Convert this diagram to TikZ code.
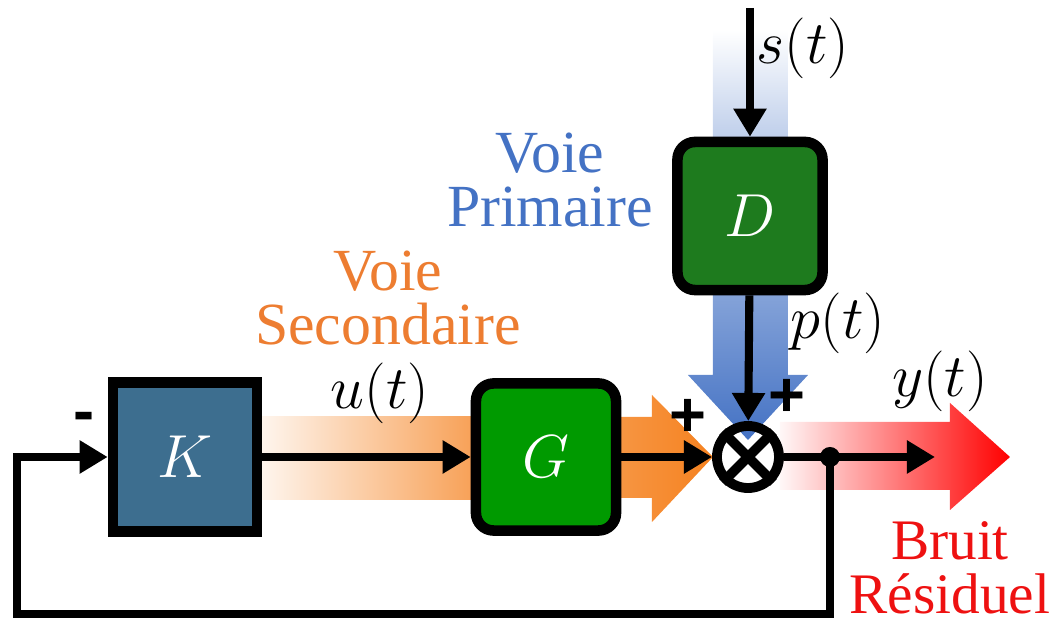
\documentclass[tikz,border=0pt]{standalone}
\usepackage{fontspec}
\setmainfont{Liberation Serif}
\setsansfont{Liberation Sans}
\usetikzlibrary{arrows.meta}

\definecolor{kblue}{HTML}{3D6E8F}
\definecolor{ggreen}{HTML}{009A00}
\definecolor{dgreen}{HTML}{1E7B1E}
\definecolor{blu}{HTML}{4472C4}
\definecolor{orng}{HTML}{F58220}
\definecolor{txtorange}{HTML}{ED7D31}
\definecolor{txtred}{HTML}{EE1111}

\tikzset{
  blk/.style={draw, line width=3pt, text=white, inner sep=0pt,
    font=\fontsize{17}{17}\selectfont},
  sig/.style={line width=2.3pt, -{Triangle[length=8pt,width=9pt]}},
  wire/.style={line width=2.3pt},
  sumnode/.style={circle, draw, line width=2.8pt, minimum size=0.62cm, inner sep=0pt},
  sgn/.style={font=\fontsize{18}{18}\sffamily\bfseries\selectfont},
  lbl/.style={font=\fontsize{16}{16}\selectfont},
  path label/.style={align=center, font=\fontsize{17}{15.5}\selectfont}
}

\begin{document}
\begin{tikzpicture}[x=0.01cm,y=-0.01cm]
    \useasboundingbox (0,0) rectangle (1059,625);
    % Paths (shaded)
    \shade[top color=white, bottom color=blu!35] (713,30) rectangle (788,140);
    \shade[left color=orng!8, right color=orng!75] (262,417) rectangle (472,500);
    \shade[left color=orng!85, right color=orng]
      (621,417) -- (652,417) -- (652,395) -- (713,457) -- (652,522) -- (652,498) -- (621,498) -- cycle;
    \shade[top color=blu!65, bottom color=blu]
      (713,292) -- (713,375) -- (688,375) -- (748,440) -- (808,375) -- (788,375) -- (788,292) -- cycle;
    \shade[left color=red!3, middle color=red!65, right color=red]
      (780,422) -- (950,422) -- (950,403) -- (1010,457) -- (950,510) -- (950,490) -- (780,490) -- cycle;
    % Blocks
    \node[blk, fill=kblue, minimum width=1.44cm, minimum height=1.49cm] (K) at (185,457) {$K$};
    \node[blk, fill=ggreen, rounded corners=5pt, minimum width=1.40cm, minimum height=1.47cm] (G) at (546,457) {$G$};
    \node[blk, fill=dgreen, rounded corners=5pt, minimum width=1.45cm, minimum height=1.48cm] (D) at (750,216) {$D$};
    \node[sumnode] (S) at (748,457) {};
    \draw[line width=2.8pt] (S.north west) -- (S.south east) (S.north east) -- (S.south west);
    % Signals
    \coordinate (sin) at (750,8);
    \coordinate (yout) at (935,457);
    \coordinate (br) at (830,457);
    \coordinate (fb) at (17,614);
    \draw[sig] (sin) -- (D);
    \draw[sig] (K) -- (G);
    \draw[sig] (G) -- (S);
    \draw[sig] (D) -- (S);
    \draw[sig] (S) -- (yout);
    \draw[sig] (br) |- (fb) |- (K.west);
    \fill (br) circle (10);
    % Labels
    \node[lbl] (st) at (803,48) {$s(t)$};
    \node[lbl] (pt) at (838,323) {$p(t)$};
    \node[lbl] (ut) at (380,393) {$u(t)$};
    \node[lbl] (yt) at (940,381) {$y(t)$};
    \node[sgn] (m) at (84,422) {-};
    \node[sgn] (p1) at (688,418) {+};
    \node[sgn] (p2) at (787,398) {+};
    \node[path label, text=blu] (vp) at (550,180) {Voie\\Primaire};
    \node[path label, text=txtorange] (vs) at (388,298) {Voie\\Secondaire};
    \node[path label, text=txtred, inner sep=1pt, font=\fontsize{16.3}{15.5}\selectfont] (br2) at (950,568) {Bruit\\Résiduel};
\end{tikzpicture}
\end{document}
